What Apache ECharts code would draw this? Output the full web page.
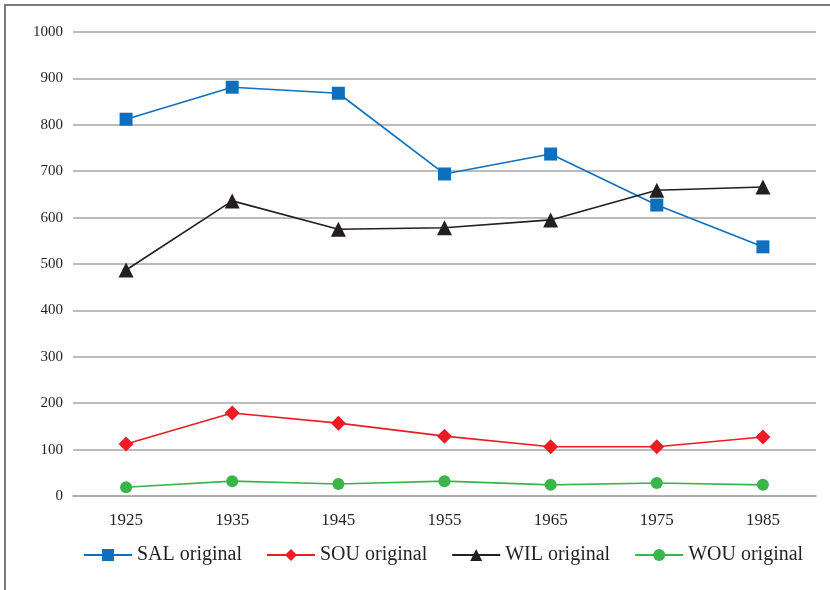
<!DOCTYPE html>
<html>
<head>
<meta charset="utf-8">
<script src="https://cdn.jsdelivr.net/npm/echarts@6/dist/echarts.min.js"></script>
<style>
  html, body { margin: 0; padding: 0; background: #fff; }
  #chart { width: 830px; height: 590px; }
</style>
</head>
<body>
<div id="chart"></div>
<script>
var years = ['1925', '1935', '1945', '1955', '1965', '1975', '1985'];

var salOriginal = [812, 881, 868, 694, 737, 627, 537];
var souOriginal = [112, 179, 157, 129, 106, 106, 127];
var wilOriginal = [487, 636, 575, 578, 595, 659, 666];
var wouOriginal = [19, 32, 26, 32, 24, 28, 24];

var seriesNames = ['SAL original', 'SOU original', 'WIL original', 'WOU original'];
var seriesData = [salOriginal, souOriginal, wilOriginal, wouOriginal];
var colors = ['#0f6fbc', '#ed1c24', '#231f20', '#39b54a'];
var symbols = ['rect', 'diamond', 'triangle', 'circle'];
var symbolSizes = [13, 15, 15, 12];

var font = '"Liberation Serif", "DejaVu Serif", serif';

var chart = echarts.init(document.getElementById('chart'));

var series = seriesNames.map(function (name, i) {
    return {
        name: name,
        type: 'line',
        data: seriesData[i],
        symbol: symbols[i],
        symbolSize: symbolSizes[i],
        showAllSymbol: true,
        lineStyle: { color: colors[i], width: 1.6 },
        itemStyle: { color: colors[i] },
        emphasis: { disabled: true }
    };
});

var option = {
    backgroundColor: '#fff',
    animation: false,
    color: colors,
    textStyle: { fontFamily: font },
    graphic: [{
        type: 'polyline',
        shape: { points: [[5, 590], [5, 5], [830, 5]] },
        style: { stroke: '#7a7a7a', lineWidth: 2, fill: null }
    }],
    grid: { left: 73, right: 14, top: 32, bottom: 94 },
    legend: {
        data: seriesNames,
        left: 78,
        top: 540,
        itemWidth: 48,
        itemHeight: 15,
        itemGap: 24,
        textStyle: { fontFamily: font, fontSize: 20, color: '#231f20' }
    },
    xAxis: {
        type: 'category',
        data: years,
        boundaryGap: true,
        axisLine: { show: true, lineStyle: { color: '#a6a6a6', width: 1.5 } },
        axisTick: { show: false },
        axisLabel: { fontFamily: font, fontSize: 17, color: '#231f20', margin: 16 }
    },
    yAxis: {
        type: 'value',
        min: 0,
        max: 1000,
        interval: 100,
        axisLine: { show: false },
        axisTick: { show: false },
        axisLabel: {
            fontFamily: font,
            fontSize: 15,
            color: '#231f20',
            margin: 10,
            formatter: function (v) { return String(v); }
        },
        splitLine: { lineStyle: { color: '#a6a6a6', width: 1.5 } }
    },
    series: series
};

chart.setOption(option);
</script>
</body>
</html>
